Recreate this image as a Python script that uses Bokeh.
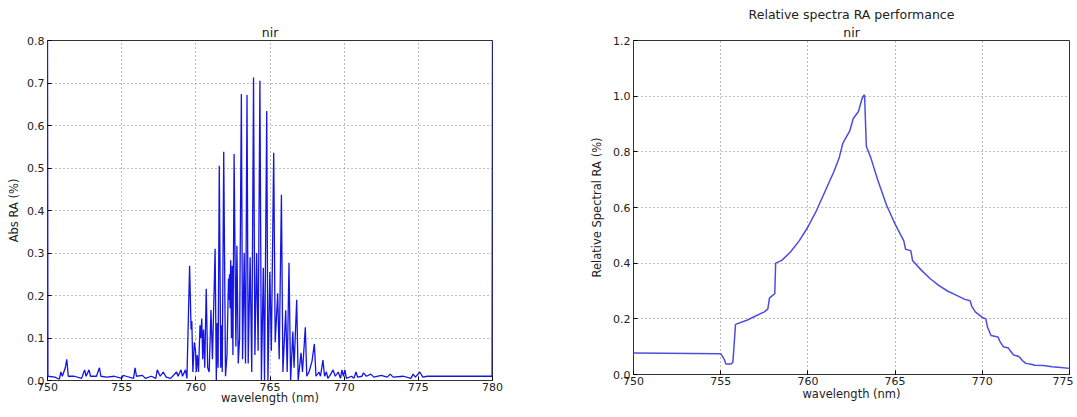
from bokeh.plotting import figure
from bokeh.layouts import row
from bokeh.models import FixedTicker, NumeralTickFormatter, Range1d, Title
from bokeh.embed import file_html
from bokeh.resources import INLINE

# ---- Left panel: absolute RA spectrum ----
abs_wl = [750.0, 750.03, 750.5, 750.8, 750.9, 751.0, 751.2, 751.3, 751.4, 751.8, 752.3, 752.5, 752.6,
          752.8, 752.9, 753.3, 753.5, 753.6, 754.0, 754.5, 755.0, 755.1, 755.3, 755.8, 755.9,
          756.0, 756.4, 756.6, 757.0, 757.3, 757.4, 757.6, 757.8, 758.0, 758.3, 758.7, 758.8,
          759.0, 759.1, 759.3, 759.4,
          759.58, 759.68, 759.73, 759.8, 759.9, 759.98, 760.03, 760.1, 760.18, 760.28, 760.33,
          760.4, 760.46, 760.52, 760.6, 760.7, 760.8, 760.9, 761.02, 761.12, 761.3, 761.38,
          761.44, 761.5, 761.58, 761.68, 761.74, 761.78, 761.88, 762.0, 762.1, 762.2, 762.24,
          762.27, 762.31, 762.35, 762.4, 762.45, 762.5, 762.58, 762.7, 762.77, 762.86, 762.95,
          763.07, 763.15, 763.26, 763.35, 763.45, 763.53, 763.66, 763.77, 763.89, 763.98, 764.1,
          764.2, 764.32, 764.42, 764.55, 764.63, 764.78, 764.86, 764.99, 765.09, 765.25, 765.35,
          765.52, 765.62, 765.77, 765.87, 766.06, 766.16, 766.28, 766.39, 766.54, 766.62, 766.8,
          766.9, 767.09, 767.19, 767.38, 767.48, 767.63, 767.83, 767.99, 768.1, 768.3, 768.4,
          768.57, 768.68, 768.8, 768.9, 769.1, 769.25, 769.4, 769.6, 769.75, 769.85, 769.95,
          770.05, 770.15, 770.5, 770.65, 770.8, 770.9, 771.2, 771.3, 771.5, 771.8, 772.0, 772.5,
          772.9, 773.1, 773.3, 774.0, 774.5, 774.65, 774.8, 775.1, 775.3, 775.6, 776.0, 779.97,
          780.0]
abs_ra = [0.850, 0.010, 0.008, 0.003, 0.020, 0.010, 0.030, 0.050, 0.010, 0.010, 0.005, 0.025, 0.010,
          0.025, 0.010, 0.010, 0.030, 0.010, 0.008, 0.010, 0.005, 0.012, 0.010, 0.005, 0.030,
          0.010, 0.012, 0.005, 0.010, 0.005, 0.025, 0.010, 0.020, 0.008, 0.005, 0.020, 0.010,
          0.025, 0.010, 0.025, 0.005,
          0.270, 0.120, 0.140, 0.020, 0.090, 0.070, 0.020, 0.060, 0.020, 0.130, 0.100,
          0.146, 0.050, 0.120, 0.030, 0.216, 0.030, 0.020, 0.166, 0.050, 0.310, 0.000,
          0.135, 0.030, 0.505, 0.030, 0.130, 0.020, 0.538, 0.010, 0.060, 0.240, 0.190,
          0.250, 0.170, 0.283, 0.100, 0.270, 0.060, 0.533, 0.080, 0.317, 0.040, 0.100,
          0.674, 0.050, 0.300, 0.040, 0.672, 0.040, 0.290, 0.020, 0.713, 0.060, 0.300,
          0.070, 0.705, 0.000, 0.265, 0.000, 0.634, 0.000, 0.255, 0.070, 0.536, 0.090,
          0.205, 0.050, 0.437, 0.020, 0.165, 0.020, 0.277, 0.000, 0.115, 0.030, 0.190,
          0.000, 0.065, 0.020, 0.125, 0.010, 0.020, 0.045, 0.086, 0.010, 0.020, 0.010,
          0.048, 0.010, 0.020, 0.005, 0.015, 0.025, 0.010, 0.020, 0.005, 0.025, 0.010,
          0.025, 0.005, 0.010, 0.005, 0.020, 0.008, 0.010, 0.018, 0.010, 0.015, 0.008, 0.012,
          0.008, 0.015, 0.008, 0.010, 0.005, 0.015, 0.008, 0.020, 0.008, 0.010, 0.010, 0.010,
          0.850]

# ---- Right panel: relative spectral RA ----
rel_wl = [750.0, 755.0, 755.1, 755.2, 755.3, 755.6, 755.7, 755.85, 756.5, 757.0, 757.5, 757.7,
          757.8, 758.0, 758.1, 758.15, 758.5, 759.0, 759.5, 760.0, 760.5, 761.0, 761.5, 761.8,
          762.0, 762.4, 762.6, 762.9, 763.1, 763.2, 763.25, 763.35, 763.6, 764.0, 764.5, 765.0,
          765.5, 765.6, 765.9, 766.0, 766.5, 767.0, 767.5, 768.0, 768.5, 769.0, 769.3, 769.4,
          769.6, 770.0, 770.2, 770.3, 770.5, 770.9, 771.0, 771.2, 771.5, 771.6, 771.8, 772.1,
          772.3, 772.5, 772.8, 773.0, 773.5, 774.0, 774.5, 775.0]
rel_ra = [0.077, 0.075, 0.065, 0.055, 0.038, 0.038, 0.045, 0.180, 0.195, 0.210, 0.225, 0.235,
          0.275, 0.285, 0.290, 0.400, 0.410, 0.440, 0.480, 0.530, 0.590, 0.660, 0.730, 0.780,
          0.830, 0.875, 0.920, 0.945, 0.990, 1.003, 1.003, 0.820, 0.780, 0.700, 0.610, 0.540,
          0.480, 0.450, 0.445, 0.410, 0.375, 0.345, 0.320, 0.300, 0.285, 0.270, 0.265, 0.245,
          0.225, 0.205, 0.200, 0.170, 0.140, 0.135, 0.120, 0.100, 0.095, 0.085, 0.070, 0.065,
          0.050, 0.040, 0.037, 0.033, 0.032, 0.028, 0.025, 0.022]

left_xticks = [750, 755, 760, 765, 770, 775, 780]
left_yticks = [0.0, 0.1, 0.2, 0.3, 0.4, 0.5, 0.6, 0.7, 0.8]
right_xticks = [750, 755, 760, 765, 770, 775]
right_yticks = [0.0, 0.2, 0.4, 0.6, 0.8, 1.0, 1.2]

FONT = "DejaVu Sans"
TXT = "#222222"


def style(p, xticks, yticks, tick_standoff, xlabel_standoff, ylabel_standoff):
    p.outline_line_color = "#333333"
    p.outline_line_width = 1
    for ax in (p.xaxis[0], p.yaxis[0]):
        ax.axis_line_color = None
        ax.major_tick_in = 4
        ax.major_tick_out = 0
        ax.minor_tick_line_color = None
        ax.major_tick_line_color = "black"
        ax.major_label_text_font = FONT
        ax.major_label_text_font_size = "11px"
        ax.major_label_text_color = TXT
        ax.axis_label_text_font = FONT
        ax.axis_label_text_font_size = "11.5px"
        ax.axis_label_text_font_style = "normal"
        ax.axis_label_text_color = TXT
    p.xaxis[0].ticker = FixedTicker(ticks=xticks)
    p.yaxis[0].ticker = FixedTicker(ticks=yticks)
    p.yaxis[0].formatter = NumeralTickFormatter(format="0.0")
    p.xaxis[0].major_label_standoff = tick_standoff
    p.yaxis[0].major_label_standoff = 3
    p.xaxis[0].axis_label_standoff = xlabel_standoff
    p.yaxis[0].axis_label_standoff = ylabel_standoff
    for g in (p.xgrid, p.ygrid):
        g.grid_line_color = "#7a7a7a"
        g.grid_line_dash = "1 3"
        g.grid_line_width = 1
    p.background_fill_color = "white"
    p.border_fill_color = "white"


p1 = figure(width=508, height=414, output_backend="svg", toolbar_location=None,
            x_range=Range1d(750, 780), y_range=Range1d(0, 0.8),
            min_border_left=47, min_border_right=16, min_border_top=40, min_border_bottom=32)
p1.add_layout(Title(text="nir", align="center", text_font=FONT, text_font_size="12.5px",
                    text_font_style="normal", text_color=TXT, standoff=2), "above")
p1.line(abs_wl, abs_ra, line_color="#1414e6", line_width=1.3)
p1.xaxis.axis_label = "wavelength (nm)"
p1.yaxis.axis_label = "Abs RA (%)"
style(p1, left_xticks, left_yticks, 2, -3, 3)

p2 = figure(width=565, height=408, output_backend="svg", toolbar_location=None,
            x_range=Range1d(750, 775), y_range=Range1d(0, 1.2),
            min_border_left=125, min_border_right=4, min_border_top=40, min_border_bottom=34)
p2.add_layout(Title(text="nir", align="center", text_font=FONT, text_font_size="12.5px",
                    text_font_style="normal", text_color=TXT, standoff=2), "above")
p2.add_layout(Title(text="Relative spectra RA performance", align="center", text_font=FONT,
                    text_font_size="12.5px", text_font_style="normal", text_color=TXT,
                    standoff=0), "above")
p2.line(rel_wl, rel_ra, line_color="#4d4de0", line_width=1.5)
p2.xaxis.axis_label = "wavelength (nm)"
p2.yaxis.axis_label = "Relative Spectral RA (%)"
style(p2, right_xticks, right_yticks, 2, -1, 6)

layout = row(p1, p2)
open("out.html", "w").write(file_html(layout, INLINE))
